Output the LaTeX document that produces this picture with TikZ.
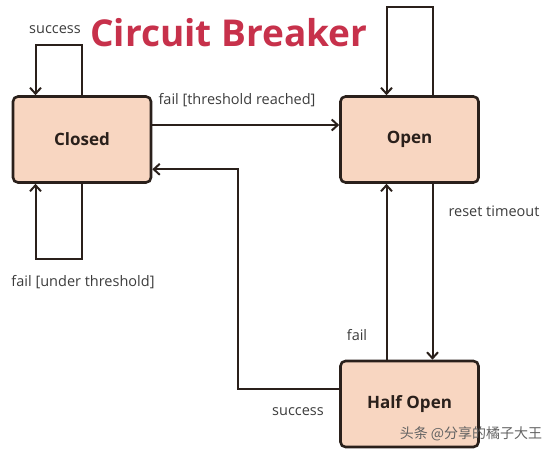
\documentclass[tikz,border=0pt]{standalone}
\usepackage{fontspec}
\setmainfont{Open Sans}
\newfontfamily\cjkfont{Noto Sans CJK SC}
\usetikzlibrary{arrows.meta,positioning}

\definecolor{boxfill}{HTML}{F8D6C1}
\definecolor{boxline}{HTML}{2A201B}
\definecolor{titlered}{HTML}{C7314B}
\definecolor{labelgray}{HTML}{3C3C3C}

\tikzset{
  statebox/.style={draw=boxline, fill=boxfill, line width=2.6pt,
    rounded corners=5pt, minimum width=138pt, minimum height=86pt,
    font=\fontsize{17}{20}\selectfont\bfseries, text=boxline},
  trans/.style={->, line width=2pt, draw=boxline},
  translabel/.style={font=\fontsize{14.5}{17}\selectfont, text=labelgray}
}

\begin{document}
\begin{tikzpicture}[x=1pt, y=-1pt, >={Straight Barb[length=6pt,width=11pt]}]

  \useasboundingbox (0,0) rectangle (554,453);

  \node[font=\fontsize{37}{40}\selectfont\bfseries, text=titlered]
    (title) at (229,33) {Circuit Breaker};

  % states
  \node[statebox] (closed) at (82,139.5) {Closed};
  \node[statebox] (open) at (409.5,139.5) {Open};
  \node[statebox] (halfopen) at (409.5,404) {Half Open};

  % bends
  \coordinate (succtop) at (35.5,45);
  \coordinate (failbot) at (35.5,259);
  \coordinate (opentop) at (386.5,7);
  \coordinate (succbend) at (237.6,169.3);

  % closed loops
  \draw[trans] (closed.north) |- (succtop) -- (closed.north -| succtop);
  \node[translabel] (succlabel) at (55,30) {success};
  \draw[trans] (closed.south) |- (failbot) -- (closed.south -| failbot);
  \node[translabel] (faillabel) at (83,282) {fail [under threshold]};

  % closed -> open
  \draw[trans] ([yshift=14.5pt]closed.east) -- ([yshift=14.5pt]open.west);
  \node[translabel] (threslabel) at (237,100) {fail [threshold reached]};

  % open loop
  \draw[trans] ([xshift=23pt]open.north) |- (opentop) -- (open.north -| opentop);

  % open <-> half open
  \draw[trans] ([xshift=23pt]open.south) -- ([xshift=23pt]halfopen.north);
  \node[translabel] (resetlabel) at (494,211) {reset timeout};
  \draw[trans] ([xshift=-23pt]halfopen.north) -- ([xshift=-23pt]open.south);
  \node[translabel] (hofail) at (357,335) {fail};

  % half open -> closed
  \draw[trans] ([yshift=15pt]halfopen.west) -| (succbend) -- (closed.east |- succbend);
  \node[translabel] (hosucc) at (298,412) {success};

  \node[font=\cjkfont\fontsize{14}{16}\selectfont, text=labelgray!80]
    (mark) at (471,434) {头条 @分享的橘子大王};

\end{tikzpicture}
\end{document}
